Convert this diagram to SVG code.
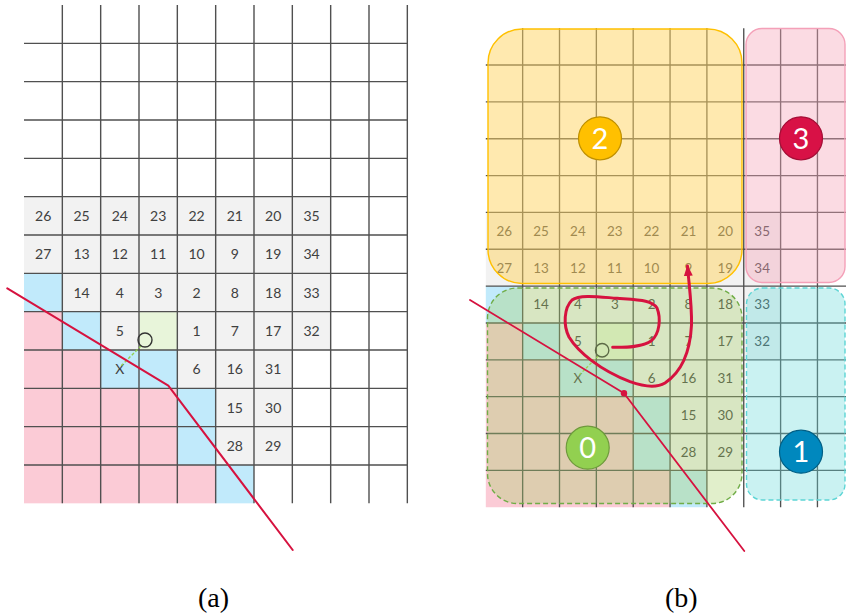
<svg xmlns="http://www.w3.org/2000/svg" xmlns:xlink="http://www.w3.org/1999/xlink" width="846" height="615" viewBox="0 0 846 615">
<style>
.num{font-family:Lato,"Open Sans","Liberation Sans",sans-serif;font-size:14px;fill:#404040;text-anchor:middle}
.gl{stroke:#505050;stroke-width:1.4;fill:none}
.gray{fill:#f2f2f2}
.blue{fill:#c1eafb}
.pink{fill:#fbcbd6}
.lg{fill:#e8f5da}
.red{stroke:#d6123f;fill:none;stroke-linejoin:round;stroke-linecap:round}
.badge{font-family:Lato,"Open Sans","Liberation Sans",sans-serif;font-size:29px;fill:#ffffff;text-anchor:middle}
.cap{font-family:"Liberation Serif","Times New Roman",serif;font-size:28px;fill:#000}
</style>
<defs>
<marker id="ah" markerUnits="userSpaceOnUse" markerWidth="12" markerHeight="12" viewBox="0 0 12 12" refX="10" refY="6" orient="auto">
<path d="M0,1.5 L11,6 L0,10.5 Z" fill="#d6123f"/>
</marker>
<g id="grid">
<g id="cells">
<rect class="gray" x="24" y="196.67" width="306.67" height="76.67"/>
<rect class="gray" x="62.33" y="273.33" width="268.34" height="38.34"/>
<rect class="gray" x="100.67" y="311.67" width="38.33" height="38.33"/>
<rect class="gray" x="177.33" y="311.67" width="153.34" height="38.33"/>
<rect class="gray" x="177.33" y="350" width="115" height="38.33"/>
<rect class="gray" x="215.67" y="388.33" width="76.66" height="76.67"/>
<rect class="lg" x="139" y="311.67" width="38.33" height="38.33"/>
<rect class="blue" x="24" y="273.33" width="38.33" height="38.34"/>
<rect class="blue" x="62.33" y="311.67" width="38.34" height="38.33"/>
<rect class="blue" x="100.67" y="350" width="76.66" height="38.33"/>
<rect class="blue" x="177.33" y="388.33" width="38.34" height="76.67"/>
<rect class="blue" x="215.67" y="465" width="38.33" height="38.33"/>
<rect class="pink" x="24" y="311.67" width="38.33" height="38.33"/>
<rect class="pink" x="24" y="350" width="76.67" height="38.33"/>
<rect class="pink" x="24" y="388.33" width="153.33" height="76.67"/>
<rect class="pink" x="24" y="465" width="191.67" height="38.33"/>
</g>
<path class="gl" d="M62.33,5V503.33M100.67,5V503.33M139,5V503.33M177.33,5V503.33M215.67,5V503.33M254,5V503.33M292.33,5V503.33M330.67,5V503.33M369,5V503.33M407.33,5V503.33M24,43.33H407.33M24,81.67H407.33M24,120H407.33M24,158.33H407.33M24,196.67H407.33M24,235H407.33M24,273.33H407.33M24,311.67H407.33M24,350H407.33M24,388.33H407.33M24,426.67H407.33M24,465H407.33"/>
<g id="numbers">
<text class="num" x="43.2" y="220.8">26</text><text class="num" x="81.5" y="220.8">25</text><text class="num" x="119.8" y="220.8">24</text><text class="num" x="158.2" y="220.8">23</text><text class="num" x="196.5" y="220.8">22</text><text class="num" x="234.8" y="220.8">21</text><text class="num" x="273.2" y="220.8">20</text><text class="num" x="311.5" y="220.8">35</text>
<text class="num" x="43.2" y="259.2">27</text><text class="num" x="81.5" y="259.2">13</text><text class="num" x="119.8" y="259.2">12</text><text class="num" x="158.2" y="259.2">11</text><text class="num" x="196.5" y="259.2">10</text><text class="num" x="234.8" y="259.2">9</text><text class="num" x="273.2" y="259.2">19</text><text class="num" x="311.5" y="259.2">34</text>
<text class="num" x="81.5" y="297.5">14</text><text class="num" x="119.8" y="297.5">4</text><text class="num" x="158.2" y="297.5">3</text><text class="num" x="196.5" y="297.5">2</text><text class="num" x="234.8" y="297.5">8</text><text class="num" x="273.2" y="297.5">18</text><text class="num" x="311.5" y="297.5">33</text>
<text class="num" x="119.8" y="335.8">5</text><text class="num" x="196.5" y="335.8">1</text><text class="num" x="234.8" y="335.8">7</text><text class="num" x="273.2" y="335.8">17</text><text class="num" x="311.5" y="335.8">32</text>
<text class="num" x="119.8" y="374.2">X</text><text class="num" x="196.5" y="374.2">6</text><text class="num" x="234.8" y="374.2">16</text><text class="num" x="273.2" y="374.2">31</text>
<text class="num" x="234.8" y="412.5">15</text><text class="num" x="273.2" y="412.5">30</text>
<text class="num" x="234.8" y="450.8">28</text><text class="num" x="273.2" y="450.8">29</text>
</g>
<line x1="141" y1="346" x2="121" y2="366" stroke="#92d050" stroke-width="1.4" stroke-dasharray="3,2"/>
<circle cx="145" cy="340" r="7" fill="none" stroke="#333" stroke-width="1.4"/>
</g>
</defs>

<g id="panel-a">
<use xlink:href="#grid" href="#grid"/>
<g id="connectors-a">
<polyline class="red" stroke-width="2" points="7.3,288.3 168.3,385.7 292.7,550"/>
</g>
<text class="cap" x="198" y="607">(a)</text>
</g>

<g id="panel-b">
<use xlink:href="#grid" href="#grid" transform="translate(462.73,23.39) scale(0.9613)"/>
<g id="node-2">
<rect x="488" y="29" width="254" height="254.5" rx="34" fill="#ffd45f" fill-opacity="0.5" stroke="#ffc000" stroke-width="1.4"/>
<circle cx="600" cy="138.3" r="21.5" fill="#ffc000" stroke="#bf9000" stroke-width="1.2"/>
<text class="badge" x="600" y="148.5">2</text>
</g>
<g id="node-3">
<rect x="746" y="28.5" width="99" height="254" rx="16" fill="#f4a6ba" fill-opacity="0.4" stroke="#f4a0b8" stroke-width="1.4"/>
<circle cx="801" cy="138.3" r="21.5" fill="#d81146" stroke="#a50d36" stroke-width="1.2"/>
<text class="badge" x="801" y="148.5">3</text>
</g>
<g id="node-0">
<rect x="487.5" y="288" width="254.5" height="215.5" rx="30" fill="#a8d06a" fill-opacity="0.35" stroke="#70ad47" stroke-width="1.4" stroke-dasharray="5,3"/>
<circle cx="587.7" cy="447.7" r="21.5" fill="#92d050" stroke="#6e9a3c" stroke-width="1.2"/>
<text class="badge" x="587.7" y="457.9">0</text>
</g>
<g id="node-1">
<rect x="746.5" y="288" width="98.5" height="212" rx="16" fill="#66d9d9" fill-opacity="0.35" stroke="#5dd5d5" stroke-width="1.4" stroke-dasharray="5,3"/>
<circle cx="801" cy="451.7" r="21.5" fill="#0088be" stroke="#005f85" stroke-width="1.2"/>
<text class="badge" x="801" y="461.9">1</text>
</g>
<g id="connectors-b">
<polyline class="red" stroke-width="1.8" points="470,300 624,393.3 744.3,551"/>
<circle cx="624" cy="393.3" r="3.2" fill="#d6123f"/>
<path class="red" stroke-width="3" marker-end="url(#ah)" d="M612.7,347.3 C628,347.5 642,347 651,341 C660,334 661,318 657,308 C652,300 640,300 617,298.3 C600,297 580,294 572,300 C564,308 563,325 569,337 C578,352 600,370 630,381.7 C642,386 655,389 665,383 C680,373 690,355 691.5,325 C692,305 689,285 687.5,266"/>
</g>
<text class="cap" x="665" y="607">(b)</text>
</g>
</svg>
